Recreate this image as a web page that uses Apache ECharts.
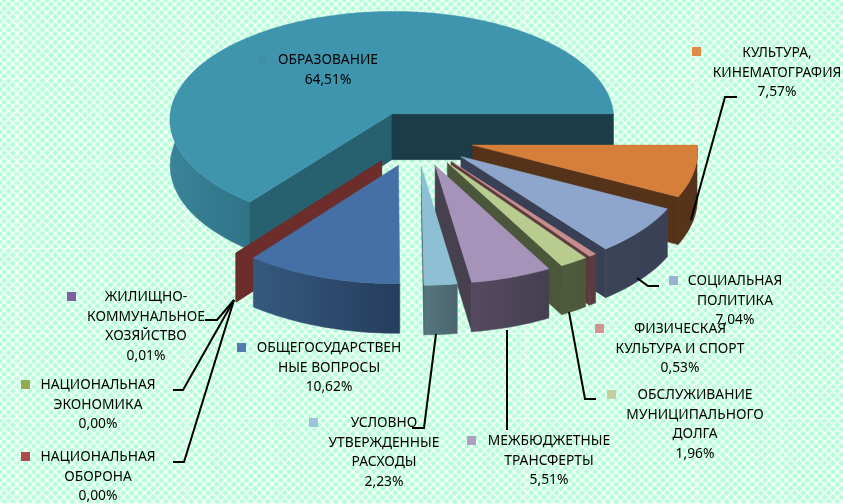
<!DOCTYPE html>
<html><head><meta charset="utf-8">
<style>html,body{margin:0;padding:0;background:#c4ffe2}#c{width:843px;height:504px}</style>
<script src="https://cdn.jsdelivr.net/npm/echarts@6/dist/echarts.min.js"></script>
</head><body><div id="c"></div>
<script>
// ---- data (clockwise from due east) ----
const categories = ['КУЛЬТУРА, КИНЕМАТОГРАФИЯ','СОЦИАЛЬНАЯ ПОЛИТИКА','ФИЗИЧЕСКАЯ КУЛЬТУРА И СПОРТ','ОБСЛУЖИВАНИЕ МУНИЦИПАЛЬНОГО ДОЛГА','МЕЖБЮДЖЕТНЫЕ ТРАНСФЕРТЫ','УСЛОВНО УТВЕРЖДЕННЫЕ РАСХОДЫ','ОБЩЕГОСУДАРСТВЕННЫЕ ВОПРОСЫ','ЖИЛИЩНО-КОММУНАЛЬНОЕ ХОЗЯЙСТВО','НАЦИОНАЛЬНАЯ ЭКОНОМИКА','НАЦИОНАЛЬНАЯ ОБОРОНА','ОБРАЗОВАНИЕ'];
const values = [7.57,7.04,0.53,1.96,5.51,2.23,10.62,0.01,0.00,0.00,64.51];
const labelLines = [
 ['КУЛЬТУРА,','КИНЕМАТОГРАФИЯ'],['СОЦИАЛЬНАЯ','ПОЛИТИКА'],['ФИЗИЧЕСКАЯ','КУЛЬТУРА И СПОРТ'],
 ['ОБСЛУЖИВАНИЕ','МУНИЦИПАЛЬНОГО','ДОЛГА'],['МЕЖБЮДЖЕТНЫЕ','ТРАНСФЕРТЫ'],['УСЛОВНО','УТВЕРЖДЕННЫЕ','РАСХОДЫ'],
 ['ОБЩЕГОСУДАРСТВЕН','НЫЕ ВОПРОСЫ'],['ЖИЛИЩНО-','КОММУНАЛЬНОЕ','ХОЗЯЙСТВО'],['НАЦИОНАЛЬНАЯ','ЭКОНОМИКА'],['НАЦИОНАЛЬНАЯ','ОБОРОНА'],['ОБРАЗОВАНИЕ']];
// ---- styles / layout ----
const paintOrder = [10,0,1,2,3,4,7,8,9,5,6];
const topColors = ['#D67F3A','#8FA6CC','#C98D8D','#B8CC90','#A593B9','#8DC0D2','#4570A5','#7F5F9F','#95A94F','#B04A4A','#4095AE'];
const arcColors = [['#57331a','#55321a'],['#3b4357','#3a4156'],['#5c3c3f','#5a3a3d'],['#4f593b','#4d573a'],['#554a61','#453f50'],['#557680','#4c6570'],['#36597f','#263d5c'],['#4f3a63','#4f3a63'],['#5a6630','#5a6630'],['#6d2e2b','#6d2e2b'],['#3a8399','#2f7386']];
const startFace = ['#55321a','#3a4156','#5a3a3d','#4d573a','#453f50','#4c6570','#263d5c','#6d2e2b','#6d2e2b','#6d2e2b','#27606f'];
const endFace = ['#55321a','#394056','#5a3a3d','#4c563a','#46404f','#4a5f68','#263d5c','#6d2e2b','#6d2e2b','#6d2e2b','#1b3c48'];
const markerColors = ['#E08A46','#9DB0D4','#D49393','#C3D09F','#AE9FC5','#9CC3D8','#4F7DB4','#7F5F9F','#95A94F','#B04A4A','#3E8FA9'];
const labelLayout = [ // marker x,y ; text centre x ; first line y
 [692,47,777,53],[669,276,735,281],[595,324,680,329],[607,390,695,395],[467,436,549,441],[309,418,384,423],
 [237,343,329,348],[67,292,146,297],[21,380,98,385],[21,452,98,457],[258,55,328,60]];
const leaders = [
 [[737,97],[725,97],[691,220]],[[659,286],[648,286],[637,278]],[[596,399],[585,399],[569,312]],
 [[507,430],[507,330]],[[412,428],[424,428],[436,334]],[[205,320],[217,320],[234,300]],
 [[173,390],[183,390],[234,300]],[[173,462],[184,462],[234,300]]];
const PIE = {cx:416.8, cy:138.5, R:224, K:0.49, D:4500, H:46.5, E:57};
const total = values.reduce((a,b)=>a+b,0);
const starts = []; { let acc=0; values.forEach(v=>{starts.push(acc/total*360); acc+=v;}); }
const rad = d=>d*Math.PI/180;
function project(X,Y,z){ const s=PIE.D/(PIE.D+Y); return [PIE.cx+X*s, PIE.cy-PIE.K*Y*s+z*PIE.H*s]; }
function slicePoint(i,theta,r,z){
  const mid=rad(starts[i]+values[i]/total*180);
  const X=PIE.E*Math.cos(mid)+r*Math.cos(rad(theta));
  const Y=-PIE.E*Math.sin(mid)-r*Math.sin(rad(theta));
  return project(X,Y,z);
}
function arc(i,a0,a1,z){ const pts=[]; const n=Math.max(1,Math.ceil((a1-a0)/1.5));
  for(let k=0;k<=n;k++) pts.push(slicePoint(i,a0+(a1-a0)*k/n,PIE.R,z)); return pts; }
function faceVisible(A,P,Q){ // wall hangs below line A-P; visible if interior Q is on other side
  const cr=(u,v)=>(P[0]-A[0])*(v-A[1])-(P[1]-A[1])*(u-A[0]);
  return cr(A[0],A[1]+10)*cr(Q[0],Q[1])<0; }
function poly(points,fill){ return {type:'polygon',shape:{points},style:{fill,stroke:fill,lineWidth:0.5}}; }
function renderItem(params){
  const i=paintOrder[params.dataIndex];
  const a0=starts[i], w=values[i]/total*360, a1=a0+w;
  const A=slicePoint(i,a0,0,0), kids=[];
  const half=Math.max(w/2,1);
  // arc wall on the near side
  const w0=Math.max(a0,0), w1=Math.min(a1,190);
  if(w1>w0 && w>0.1){
    const t=arc(i,w0,w1,0), b=arc(i,w0,w1,1).reverse(), pts=t.concat(b);
    const cols=arcColors[i];
    kids.push(poly(pts,new echarts.graphic.LinearGradient(0,0,1,0,[{offset:0,color:cols[0]},{offset:1,color:cols[1]}])));
  }
  // radial cut faces
  [[a0,a0+half,startFace[i]],[a1,a1-half,endFace[i]]].forEach(f=>{
    const P=slicePoint(i,f[0],PIE.R,0), Q=slicePoint(i,f[1],PIE.R*0.6,0);
    if(faceVisible(A,P,Q)) kids.push(poly([A,P,slicePoint(i,f[0],PIE.R,1),slicePoint(i,f[0],0,1)],f[2]));
  });
  if(w>0.1){ kids.push(poly([A].concat(arc(i,a0,a1,0)),topColors[i])); }
  return {type:'group',children:kids};
}
// background tile
const tile=document.createElement('canvas'); tile.width=85; tile.height=85;
{ const g=tile.getContext('2d'); g.fillStyle='#B0FFD6'; g.fillRect(0,0,85,85);
  g.strokeStyle='rgba(255,255,255,0.7)'; g.lineWidth=2;
  for(let k=-10;k<=20;k++){ const c=k*8.5;
    g.beginPath(); g.moveTo(c,0); g.lineTo(c+85,85); g.stroke();
    g.beginPath(); g.moveTo(c+85,0); g.lineTo(c,85); g.stroke(); }
  g.fillStyle='rgba(255,255,255,0.45)'; g.fillRect(16,0,1,85); g.fillRect(0,78,85,1);
}
const pct=v=>v.toFixed(2).replace('.',',')+'%';
const FONT='"Noto Sans", sans-serif';
const LH=19.7;
const gfx=[];
leaders.forEach(points=>gfx.push({type:'polyline',z:90,shape:{points},style:{stroke:'#000',lineWidth:2,fill:null}}));
categories.forEach((c,i)=>{
  const L=labelLayout[i];
  gfx.push({type:'rect',z:95,shape:{x:L[0],y:L[1],width:9,height:9},style:{fill:markerColors[i]}});
  labelLines[i].concat([pct(values[i])]).forEach((t,k)=>{
    gfx.push({type:'text',z:100,x:L[2],y:L[3]+k*LH,style:{text:t,font:'13.8px '+FONT,fill:'#000',textAlign:'center',textVerticalAlign:'middle'}});
  });
});
const chart=echarts.init(document.getElementById('c'),null,{renderer:'canvas'});
chart.setOption({
  animation:false,
  backgroundColor:{image:tile,repeat:'repeat'},
  graphic:{elements:gfx},
  series:[{type:'custom',coordinateSystem:'none',silent:true,renderItem,
    data:paintOrder.map(i=>({name:categories[i],value:values[i]}))}]
});
</script></body></html>
